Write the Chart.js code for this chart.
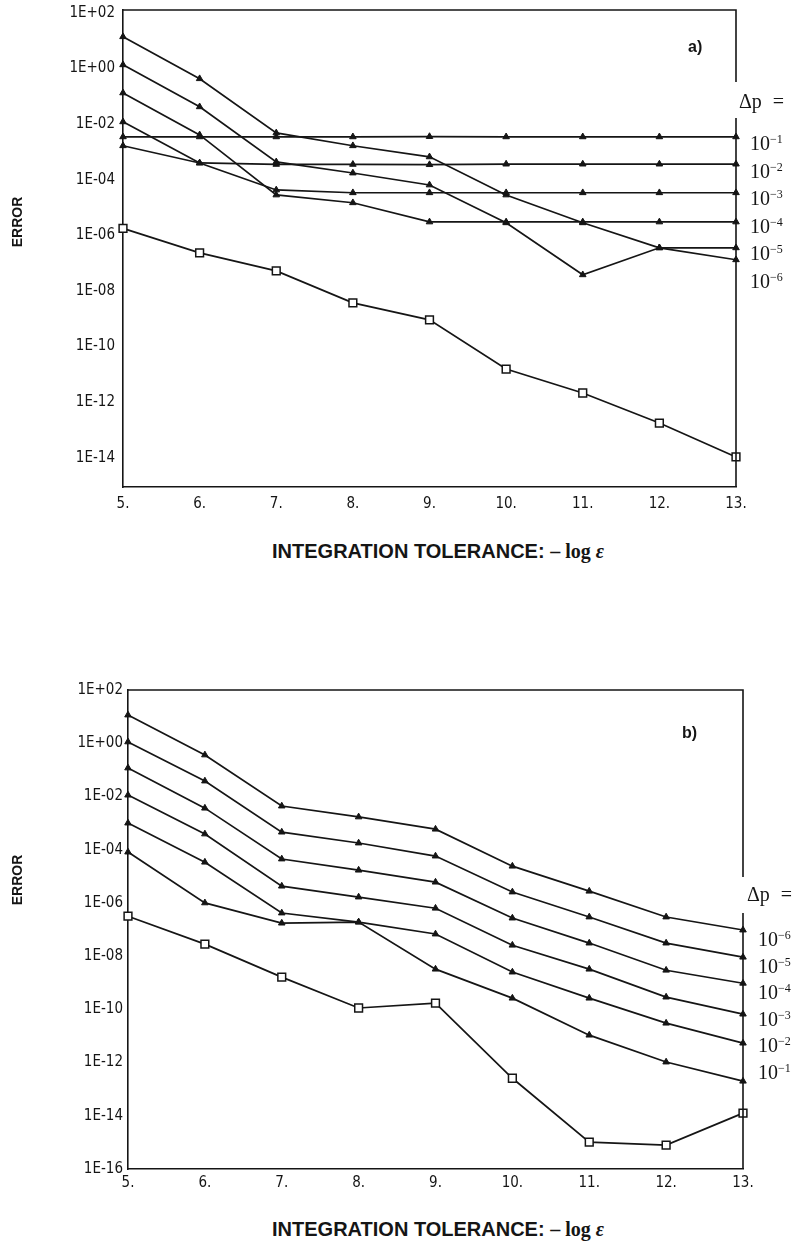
<!DOCTYPE html>
<html>
<head>
<meta charset="utf-8">
<script src="https://cdn.jsdelivr.net/npm/chart.js@4.4.1/dist/chart.umd.min.js"></script>
<style>
  body { margin: 0; background: #fff; width: 798px; height: 1243px; position: relative; overflow: hidden; color: #151515; }
  canvas { position: absolute; left: 0; }
  #chartA { top: 0; }
  #chartB { top: 680px; }
  .txt { position: absolute; white-space: nowrap; line-height: 1; }
  .ylab { font: 900 14px 'Liberation Sans', Arial, sans-serif; width: 80px; text-align: center; transform: rotate(-90deg); }
  .xlab { font: bold 20px 'Liberation Sans', Arial, sans-serif; width: 500px; text-align: center; }
  .xlab span { font: 20px 'Liberation Serif', serif; font-weight: bold; }
  .panel { font: bold 16px 'Liberation Sans', Arial, sans-serif; }
  .dp { font: 20px 'Liberation Serif', serif; }
  .dp sup { font-size: 12px; vertical-align: 7px; }
  .dphead { font: 20px 'Liberation Serif', serif; word-spacing: 6px; }
</style>
</head>
<body>
<canvas id="chartA" width="798" height="520"></canvas>
<canvas id="chartB" width="798" height="520"></canvas>

<div class="txt ylab" style="left:-23px; top:214px;">ERROR</div>
<div class="txt ylab" style="left:-23px; top:872px;">ERROR</div>
<div class="txt xlab" style="left:188px; top:540px;">INTEGRATION TOLERANCE: <span>– log <i>ε</i></span></div>
<div class="txt xlab" style="left:188px; top:1218px;">INTEGRATION TOLERANCE: <span>– log <i>ε</i></span></div>
<div class="txt panel" style="left:688px; top:38px;">a)</div>
<div class="txt panel" style="left:682px; top:724px;">b)</div>
<div class="txt dphead" style="left:739px; top:90px;">Δp =</div>
<div class="txt dphead" style="left:747px; top:883px;">Δp =</div>
<div id="dpA"></div>
<div id="dpB"></div>

<script>
// Eje x: tolerancia de integracion -log(eps)
const tolerances = [5, 6, 7, 8, 9, 10, 11, 12, 13];

// Grafico a): log10 del error para cada delta p
const logErrA_dp1 = [-2.46, -2.46, -2.46, -2.46, -2.45, -2.46, -2.46, -2.46, -2.46];
const logErrA_dp2 = [-2.78, -3.40, -3.45, -3.45, -3.46, -3.44, -3.44, -3.44, -3.44];
const logErrA_dp3 = [-1.92, -3.40, -4.37, -4.47, -4.47, -4.47, -4.47, -4.47, -4.47];
const logErrA_dp4 = [-0.88, -2.39, -4.55, -4.83, -5.52, -5.52, -5.52, -5.52, -5.52];
const logErrA_dp5 = [0.13, -1.38, -3.36, -3.76, -4.19, -5.55, -7.42, -6.45, -6.45];
const logErrA_dp6 = [1.14, -0.37, -2.32, -2.78, -3.18, -4.55, -5.55, -6.45, -6.88];
const logErrA_ref = [-5.75, -6.63, -7.28, -8.43, -9.04, -10.81, -11.67, -12.75, -13.97];

// Grafico b): log10 del error para cada delta p
const logErrB_dp6 = [1.06, -0.44, -2.36, -2.77, -3.23, -4.62, -5.56, -6.53, -7.02];
const logErrB_dp5 = [0.05, -1.42, -3.34, -3.75, -4.24, -5.59, -6.53, -7.51, -8.04];
const logErrB_dp4 = [-0.93, -2.44, -4.35, -4.77, -5.22, -6.57, -7.51, -8.53, -9.02];
const logErrB_dp3 = [-1.95, -3.41, -5.37, -5.78, -6.20, -7.59, -8.49, -9.54, -10.18];
const logErrB_dp2 = [-3.00, -4.47, -6.38, -6.72, -7.17, -8.60, -9.58, -10.52, -11.27];
const logErrB_dp1 = [-4.09, -6.00, -6.76, -6.72, -8.49, -9.58, -10.97, -11.98, -12.70];
const logErrB_ref = [-6.50, -7.55, -8.79, -9.95, -9.77, -12.59, -14.99, -15.10, -13.90];

// Etiquetas de los ejes y de delta p
const yTickExpsA = [2, 0, -2, -4, -6, -8, -10, -12, -14];
const yTickExpsB = [2, 0, -2, -4, -6, -8, -10, -12, -14, -16];
const dpExpsA = ['−1', '−2', '−3', '−4', '−5', '−6'];
const dpExpsB = ['−6', '−5', '−4', '−3', '−2', '−1'];

const INK = '#151515';
const tickFont = { family: "'DejaVu Sans Condensed', 'DejaVu Sans', sans-serif", size: 15 };

// Formato 1E+02 / 1E-04
function formatE(v) {
    const e = Math.round(Math.log10(v));
    return '1E' + (e < 0 ? '-' : '+') + String(Math.abs(e)).padStart(2, '0');
}

// Marco superior y derecho (con el hueco junto a "Δp =")
const framePlugin = {
    id: 'frame',
    afterDatasetsDraw(chart, args, opts) {
        const { ctx, chartArea: a } = chart;
        ctx.save();
        ctx.strokeStyle = INK;
        ctx.lineWidth = 1.6;
        ctx.beginPath();
        ctx.moveTo(a.left, a.top);
        ctx.lineTo(a.right, a.top);
        ctx.lineTo(a.right, a.top + opts.gapStart);
        ctx.moveTo(a.right, a.top + opts.gapEnd);
        ctx.lineTo(a.right, a.bottom);
        ctx.stroke();
        ctx.restore();
    }
};

function toPoints(logs) {
    return tolerances.map((x, i) => ({ x: x, y: Math.pow(10, logs[i]) }));
}

function buildChart(canvasId, series, refSeries, yMinExp, yMaxExp, yTickExps, box) {
    const ctx = document.getElementById(canvasId).getContext('2d');

    const datasets = series.map(s => ({
        data: toPoints(s),
        borderColor: INK, borderWidth: 1.7,
        pointStyle: 'triangle', pointRadius: 3.8,
        pointBackgroundColor: INK, pointBorderColor: INK, pointBorderWidth: 1,
        tension: 0, clip: false
    }));
    datasets.push({
        data: toPoints(refSeries),
        borderColor: INK, borderWidth: 1.7,
        pointStyle: 'rect', pointRadius: 5.5,
        pointBackgroundColor: '#fff', pointBorderColor: INK, pointBorderWidth: 1.5,
        tension: 0, clip: false
    });

    return new Chart(ctx, {
        type: 'line',
        data: { datasets: datasets },
        options: {
            responsive: false,
            animation: false,
            layout: { padding: { top: box.top, right: box.right, bottom: 0, left: 0 } },
            plugins: {
                legend: { display: false },
                tooltip: { enabled: false },
                frame: { gapStart: box.gapStart, gapEnd: box.gapEnd }
            },
            scales: {
                x: {
                    type: 'linear', min: 5, max: 13,
                    grid: { display: false, drawTicks: false },
                    border: { display: true, color: INK, width: 1.6 },
                    ticks: { stepSize: 1, padding: box.xPad, color: INK, font: tickFont, callback: v => v + '.' },
                    afterFit: s => { s.height = box.xAxis; s.paddingLeft = 0; s.paddingRight = 0; }
                },
                y: {
                    type: 'logarithmic',
                    min: Math.pow(10, yMinExp), max: Math.pow(10, yMaxExp),
                    grid: { display: false, drawTicks: false },
                    border: { display: true, color: INK, width: 1.6 },
                    ticks: { padding: box.yPad, color: INK, font: tickFont, autoSkip: false, callback: v => formatE(v) },
                    afterBuildTicks: s => { s.ticks = yTickExps.map(e => ({ value: Math.pow(10, e) })); },
                    afterFit: s => { s.width = box.yAxis; s.paddingTop = 0; s.paddingBottom = 0; }
                }
            }
        },
        plugins: [framePlugin]
    });
}

// Etiquetas 10^-n a la derecha
function placeDpLabels(containerId, exps, left, firstTop, step) {
    const el = document.getElementById(containerId);
    exps.forEach((e, i) => {
        const d = document.createElement('div');
        d.className = 'txt dp';
        d.style.left = left + 'px';
        d.style.top = (firstTop + i * step) + 'px';
        d.innerHTML = '10<sup>' + e + '</sup>';
        el.appendChild(d);
    });
}

buildChart('chartA',
    [logErrA_dp1, logErrA_dp2, logErrA_dp3, logErrA_dp4, logErrA_dp5, logErrA_dp6], logErrA_ref,
    -15.05, 2.1, yTickExpsA,
    { top: 10, right: 62, yAxis: 123, xAxis: 33, xPad: 8, yPad: 8, gapStart: 72, gapEnd: 108 });

buildChart('chartB',
    [logErrB_dp6, logErrB_dp5, logErrB_dp4, logErrB_dp3, logErrB_dp2, logErrB_dp1], logErrB_ref,
    -16, 2, yTickExpsB,
    { top: 10, right: 55, yAxis: 128, xAxis: 31, xPad: 5, yPad: 5, gapStart: 187, gapEnd: 223 });

placeDpLabels('dpA', dpExpsA, 750, 132, 27.6);
placeDpLabels('dpB', dpExpsB, 758, 928, 26.6);
</script>
</body>
</html>
